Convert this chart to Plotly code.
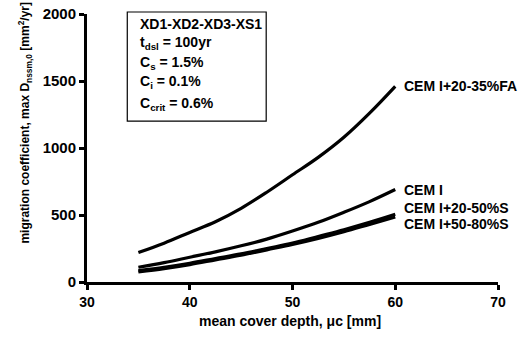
import plotly.graph_objects as go

cover = [35, 37.5, 40, 42.5, 45, 47.5, 50, 52.5, 55, 57.5, 60]
fa = [220, 290, 370, 450, 550, 670, 800, 930, 1080, 1260, 1460]
cem1 = [110, 145, 185, 225, 270, 320, 380, 445, 520, 600, 690]
s2050 = [85, 110, 140, 175, 210, 250, 290, 340, 390, 445, 505]
s5080 = [75, 100, 130, 165, 200, 240, 280, 325, 375, 430, 485]

series = [("CEM I+20-35%FA", fa, 1465), ("CEM I", cem1, 690),
          ("CEM I+20-50%S", s2050, 553), ("CEM I+50-80%S", s5080, 435)]

FONT = "Liberation Sans, Arial, sans-serif"
fig = go.Figure()
for name, ys, ly in series:
    fig.add_trace(go.Scatter(x=cover, y=ys, mode="lines", name=name,
                             line=dict(color="black", width=3.2, shape="spline")))

annotations = []
for name, ys, ly in series:
    annotations.append(dict(x=60.7, y=ly, xref="x", yref="y", text="<b>%s</b>" % name,
                            showarrow=False, xanchor="left", yanchor="middle",
                            font=dict(family=FONT, size=14, color="black")))

box_lines = ["XD1-XD2-XD3-XS1", "t<sub>dsl</sub> = 100yr", "C<sub>s</sub> = 1.5%",
             "C<sub>i</sub> = 0.1%", "C<sub>crit</sub> = 0.6%"]
box_y = [0.962, 0.890, 0.818, 0.745, 0.664]
for t, y in zip(box_lines, box_y):
    annotations.append(dict(x=0.125, y=y, xref="paper", yref="paper", text="<b>%s</b>" % t,
                            showarrow=False, xanchor="left", yanchor="middle",
                            font=dict(family=FONT, size=14, color="black")))

annotations.append(dict(x=0.495, y=-0.145, xref="paper", yref="paper",
                        text="<b>mean cover depth, μc [mm]</b>", showarrow=False,
                        xanchor="center", yanchor="middle",
                        font=dict(family=FONT, size=14, color="black")))
annotations.append(dict(x=-0.150, y=0.596, xref="paper", yref="paper", textangle=-90,
                        text="<b>migration coefficient, max D<sub>nssm,0</sub> [mm<sup>2</sup>/yr]</b>",
                        showarrow=False, xanchor="center", yanchor="middle",
                        font=dict(family=FONT, size=12, color="black")))

fig.update_layout(
    width=527, height=338, margin=dict(l=87, r=29, t=14, b=56),
    plot_bgcolor="white", paper_bgcolor="white", showlegend=False,
    font=dict(family=FONT, size=14, color="black"),
    annotations=annotations,
    shapes=[dict(type="rect", xref="paper", yref="paper", x0=0.098, x1=0.436,
                 y0=0.600, y1=1.0075, line=dict(color="black", width=1.2))],
)
fig.update_xaxes(range=[30, 70], tickvals=[30, 40, 50, 60, 70],
                 ticktext=["<b>%d</b>" % v for v in [30, 40, 50, 60, 70]],
                 automargin=False,
                 showgrid=False, zeroline=False, showline=True, linecolor="black", linewidth=3,
                 ticks="outside", ticklen=5, tickwidth=3, tickcolor="black",
                 tickfont=dict(family=FONT, size=14, color="black"))
fig.update_yaxes(range=[0, 2000], tickvals=[0, 500, 1000, 1500, 2000],
                 ticktext=["<b>%d</b>" % v for v in [0, 500, 1000, 1500, 2000]],
                 automargin=False,
                 showgrid=False, zeroline=False, showline=True, linecolor="black", linewidth=3,
                 ticks="outside", ticklen=5, tickwidth=3, tickcolor="black",
                 tickfont=dict(family=FONT, size=15, color="black"))
fig.write_html("out.html")
